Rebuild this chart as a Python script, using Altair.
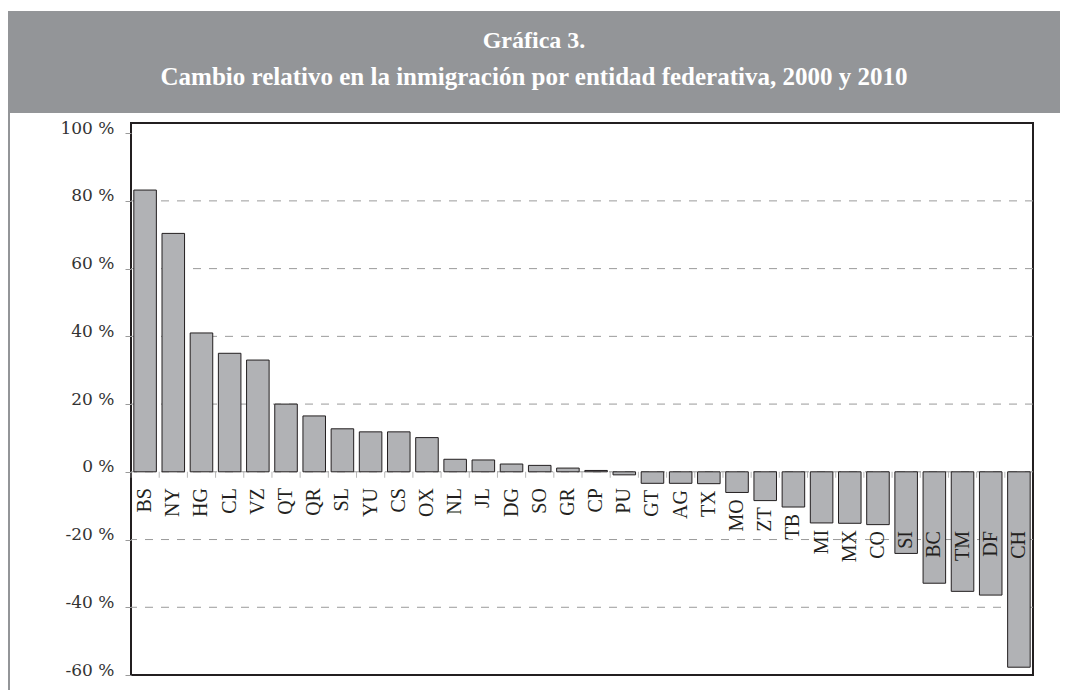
import altair as alt
import pandas as pd

estados = ["BS", "NY", "HG", "CL", "VZ", "QT", "QR", "SL", "YU", "CS", "OX",
           "NL", "JL", "DG", "SO", "GR", "CP", "PU", "GT", "AG", "TX", "MO",
           "ZT", "TB", "MI", "MX", "CO", "SI", "BC", "TM", "DF", "CH"]
cambio = [83.2, 70.4, 41.0, 35.0, 33.0, 20.0, 16.5, 12.7, 11.8, 11.8, 10.1,
          3.7, 3.5, 2.3, 1.9, 1.1, 0.4, -0.9, -3.4, -3.4, -3.5, -6.1,
          -8.5, -10.4, -15.1, -15.2, -15.6, -24.1, -32.9, -35.3, -36.4, -57.7]
y_ticks = [-60, -40, -20, 0, 20, 40, 60, 80, 100]
titulo_1 = "Gráfica 3."
titulo_2 = "Cambio relativo en la inmigración por entidad federativa, 2000 y 2010"

df = pd.DataFrame({"estado": estados, "cambio": cambio})
grid_df = pd.DataFrame({"v": y_ticks})

SERIF = "Liberation Serif"
GRAY = "#939598"

y_scale = alt.Scale(domain=[-60, 103], nice=False, zero=False)
x_scale = alt.Scale(paddingInner=0.2, paddingOuter=0.1)

y_axis = alt.Axis(
    title=None, values=y_ticks, domain=False, grid=False,
    tickColor="#9a9a9a", tickSize=6, labelPadding=11,
    labelFont="DejaVu Serif", labelFontSize=17, labelColor="#333333",
    labelBaseline="alphabetic",
    labelExpr="datum.value + ' %'",
)

grid = alt.Chart(grid_df).transform_filter(
    "datum.v > -60 && datum.v < 100"
).mark_rule(color="#9a9a9a", strokeWidth=1, strokeDash=[8, 8]).encode(
    y=alt.Y("v:Q", scale=y_scale, axis=y_axis)
)

cat_ticks = alt.Chart(df).mark_tick(
    orient="vertical", size=6, thickness=1, color="#9a9a9a",
    xOffset=-2.8, yOffset=3
).encode(
    x=alt.X("estado:N", sort=None, scale=x_scale, axis=None, bandPosition=0),
    y=alt.YDatum(0, scale=y_scale, axis=y_axis),
)

bars = alt.Chart(df).mark_bar(
    fill="#b1b2b5", stroke="#231f20", strokeWidth=1
).encode(
    x=alt.X("estado:N", sort=None, scale=x_scale, axis=None),
    y=alt.Y("cambio:Q", scale=y_scale, axis=y_axis),
)

labels = alt.Chart(df).transform_calculate(
    ly="clamp(min(datum.cambio, 0) - 2, -17.5, -4.8)"
).mark_text(
    angle=270, align="right", baseline="middle",
    font=SERIF, fontSize=20, color="#231f20"
).encode(
    x=alt.X("estado:N", sort=None, scale=x_scale, axis=None),
    y=alt.Y("ly:Q", scale=y_scale, axis=y_axis),
    text="estado:N",
)

one = alt.Data(values=[{"k": 1}])

banner = alt.Chart(one).mark_rect(color=GRAY).encode(
    x=alt.value(-123), x2=alt.value(937), y=alt.value(-112), y2=alt.value(-10)
)
left_line = alt.Chart(one).mark_rule(color=GRAY, strokeWidth=2).encode(
    x=alt.value(-122), y=alt.value(-10), y2=alt.value(567)
)
t1 = alt.Chart(one).mark_text(
    font=SERIF, fontSize=24, fontWeight="bold", color="white",
    align="center", baseline="alphabetic"
).encode(x=alt.value(403), y=alt.value(-75), text=alt.value(titulo_1))
t2 = alt.Chart(one).mark_text(
    font=SERIF, fontSize=25, fontWeight="bold", color="white",
    align="center", baseline="alphabetic"
).encode(x=alt.value(403), y=alt.value(-38), text=alt.value(titulo_2))

chart = alt.layer(grid, cat_ticks, bars, labels, banner, left_line, t1, t2).properties(
    width=902, height=552,
    autosize="none",
    padding={"left": 123, "top": 115, "right": 27, "bottom": 15},
    background="white",
).configure_view(stroke="#231f20", strokeWidth=2)

chart.save("out.html", embed_options={"renderer": "svg", "actions": False})
